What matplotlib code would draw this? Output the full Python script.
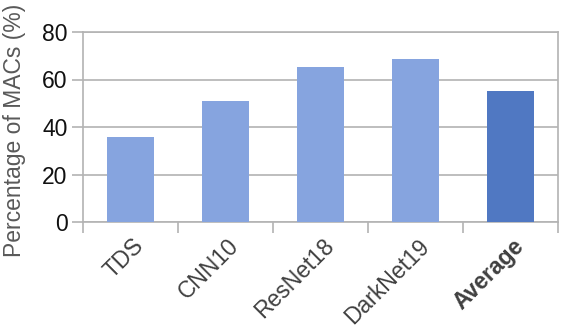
import numpy as np
import matplotlib
matplotlib.use('Agg')
import matplotlib.pyplot as plt
import matplotlib.transforms as mtransforms

categories = ['TDS', 'CNN10', 'ResNet18', 'DarkNet19', 'Average']
values = [36, 51, 65.3, 68.6, 55.2]
colors = ['#86A4DF', '#86A4DF', '#86A4DF', '#86A4DF', '#5078C2']
yticks = [0, 20, 40, 60, 80]

plt.rcParams['font.family'] = ['Liberation Sans', 'DejaVu Sans']

fig = plt.figure(figsize=(5.62, 3.28), dpi=100)
ax = fig.add_axes([83 / 562, 1 - 222 / 328, 475 / 562, 190 / 328])

x = np.arange(len(categories))
ax.bar(x, values, width=0.5, color=colors, zorder=3)

grid_c = '#B3B3B3'
ax.set_xlim(-0.5, len(categories) - 0.5)
ax.set_ylim(0, 80)
ax.set_yticks(yticks)
ax.yaxis.grid(True, color=grid_c, linewidth=1.2, zorder=0)
for s in ax.spines.values():
    s.set_color(grid_c)
    s.set_linewidth(1.2)

fs = 16.5
ax.tick_params(axis='y', length=8, width=1.2, color=grid_c, labelsize=fs,
               labelcolor='#111111', pad=3)
ax.set_xticks(x)
ax.set_xticklabels(categories, rotation=45, ha='right', rotation_mode='anchor',
                   fontsize=fs, color='#404040')
ax.get_xticklabels()[-1].set_fontweight('bold')
ax.tick_params(axis='x', length=0, pad=9)
ax.set_xticks(np.arange(-0.5, len(categories), 1), minor=True)
ax.tick_params(axis='x', which='minor', length=8, width=1.2, color=grid_c)

offset = mtransforms.ScaledTranslation(2 / 100, 0, fig.dpi_scale_trans)
for lbl in ax.get_xticklabels():
    lbl.set_transform(lbl.get_transform() + offset)

ax.set_ylabel('Percentage of MACs (%)', fontsize=fs, color='#595959')
ax.yaxis.set_label_coords(-0.12, 0.48)

fig.savefig('out.png', dpi=100)
